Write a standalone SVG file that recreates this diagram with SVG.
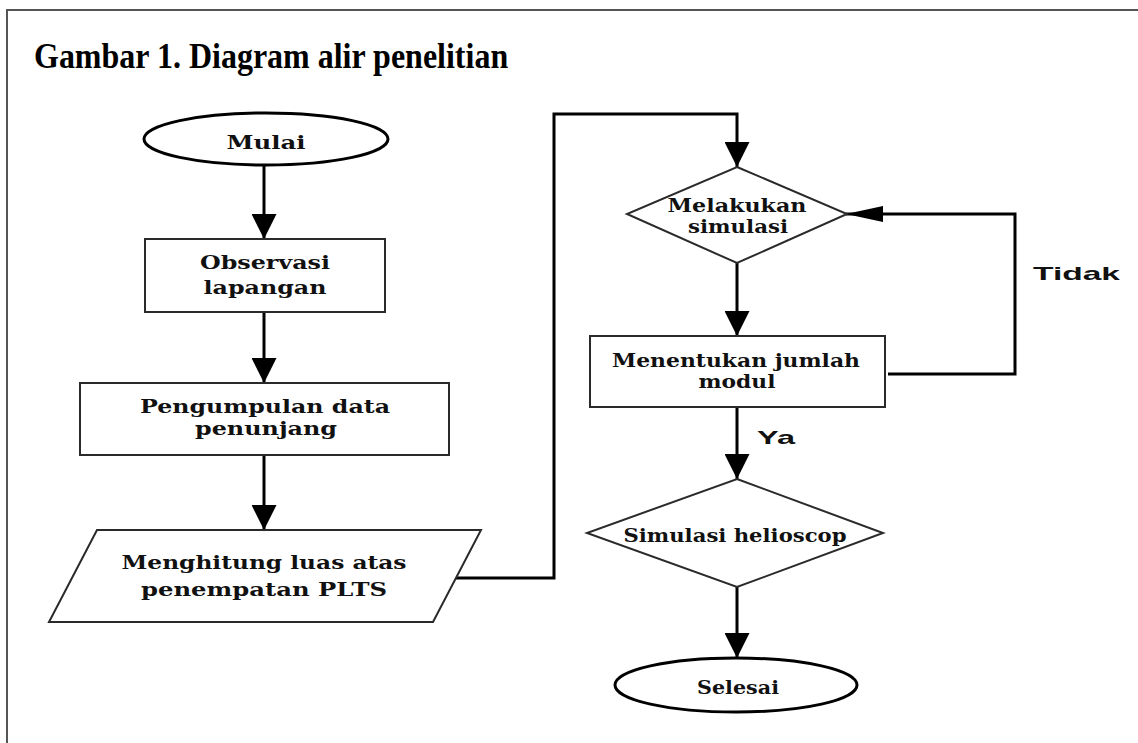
<svg xmlns="http://www.w3.org/2000/svg" width="1138" height="743" viewBox="0 0 1138 743">
<style>
.lbl{font-family:"DejaVu Serif","Liberation Serif",serif;font-weight:bold;font-size:19px;fill:#111;text-anchor:middle}
.yn{font-family:"Liberation Sans",Arial,sans-serif;font-weight:bold;font-size:19px;fill:#111}
.box{fill:#fff;stroke:#2a2a2a;stroke-width:2}
.term{fill:#fff;stroke:#000;stroke-width:3}
.conn{fill:none;stroke:#000;stroke-width:3}
</style>
<defs>
<marker id="ad" markerUnits="userSpaceOnUse" markerWidth="25" markerHeight="25" refX="25" refY="12.5" orient="auto">
<path d="M0,0 L25,12.5 L0,25 z" fill="#000"/>
</marker>
<marker id="al" markerUnits="userSpaceOnUse" markerWidth="37" markerHeight="16" refX="37" refY="8" orient="auto">
<path d="M0,0 L37,8 L0,16 z" fill="#000"/>
</marker>
</defs>
<rect width="1138" height="743" fill="#fff"/>
<path d="M7,743 V10 H1138" fill="none" stroke="#555" stroke-width="2"/>
<text transform="translate(34,68) scale(1,1.1)" x="0" y="0" font-family="'Liberation Serif','Times New Roman',serif" font-weight="bold" font-size="32" fill="#000">Gambar 1. Diagram alir penelitian</text>

<g id="connectors">
<path class="conn" d="M264,165 V239" marker-end="url(#ad)"/>
<path class="conn" d="M264,312 V383" marker-end="url(#ad)"/>
<path class="conn" d="M264,455 V530" marker-end="url(#ad)"/>
<path class="conn" d="M452,578 H554 V114 H737 V167" marker-end="url(#ad)"/>
<path class="conn" d="M737,263 V336" marker-end="url(#ad)"/>
<path class="conn" d="M888,374 H1015 V214 H846" marker-end="url(#al)"/>
<path class="conn" d="M737,407 V479" marker-end="url(#ad)"/>
<path class="conn" d="M737,587 V658" marker-end="url(#ad)"/>
<text class="yn" x="757" y="444" textLength="38" lengthAdjust="spacingAndGlyphs">Ya</text>
<text class="yn" x="1033" y="280" textLength="87" lengthAdjust="spacingAndGlyphs">Tidak</text>
</g>

<g id="mulai">
<ellipse class="term" cx="266" cy="139" rx="122" ry="26"/>
<text class="lbl" x="266" y="149" textLength="79" lengthAdjust="spacingAndGlyphs">Mulai</text>
</g>
<g id="observasi">
<rect class="box" x="145" y="239" width="240" height="73"/>
<text class="lbl" x="265" y="269" textLength="130" lengthAdjust="spacingAndGlyphs">Observasi</text>
<text class="lbl" x="265" y="294" textLength="123" lengthAdjust="spacingAndGlyphs">lapangan</text>
</g>
<g id="pengumpulan">
<rect class="box" x="80" y="383" width="369" height="72"/>
<text class="lbl" x="265" y="413" textLength="250" lengthAdjust="spacingAndGlyphs">Pengumpulan data</text>
<text class="lbl" x="266" y="435" textLength="142" lengthAdjust="spacingAndGlyphs">penunjang</text>
</g>
<g id="menghitung">
<polygon class="box" points="97,530 481,530 433,622 49,622"/>
<text class="lbl" x="264" y="569" textLength="285" lengthAdjust="spacingAndGlyphs">Menghitung luas atas</text>
<text class="lbl" x="264" y="596" textLength="246" lengthAdjust="spacingAndGlyphs">penempatan PLTS</text>
</g>
<g id="melakukan">
<polygon class="box" points="737,167 847,214 737,263 627,214"/>
<text class="lbl" x="737" y="212" textLength="139" lengthAdjust="spacingAndGlyphs">Melakukan</text>
<text class="lbl" x="738" y="233" textLength="100" lengthAdjust="spacingAndGlyphs">simulasi</text>
</g>
<g id="menentukan">
<rect class="box" x="590" y="336" width="295" height="71"/>
<text class="lbl" x="736" y="367" textLength="248" lengthAdjust="spacingAndGlyphs">Menentukan jumlah</text>
<text class="lbl" x="737" y="388" textLength="77" lengthAdjust="spacingAndGlyphs">modul</text>
</g>
<g id="helioscop">
<polygon class="box" points="737,479 883,533 737,587 587,533"/>
<text class="lbl" x="735" y="542" textLength="223" lengthAdjust="spacingAndGlyphs">Simulasi helioscop</text>
</g>
<g id="selesai">
<ellipse class="term" cx="736" cy="685" rx="121" ry="27"/>
<text class="lbl" x="738" y="694" textLength="82" lengthAdjust="spacingAndGlyphs">Selesai</text>
</g>
</svg>
